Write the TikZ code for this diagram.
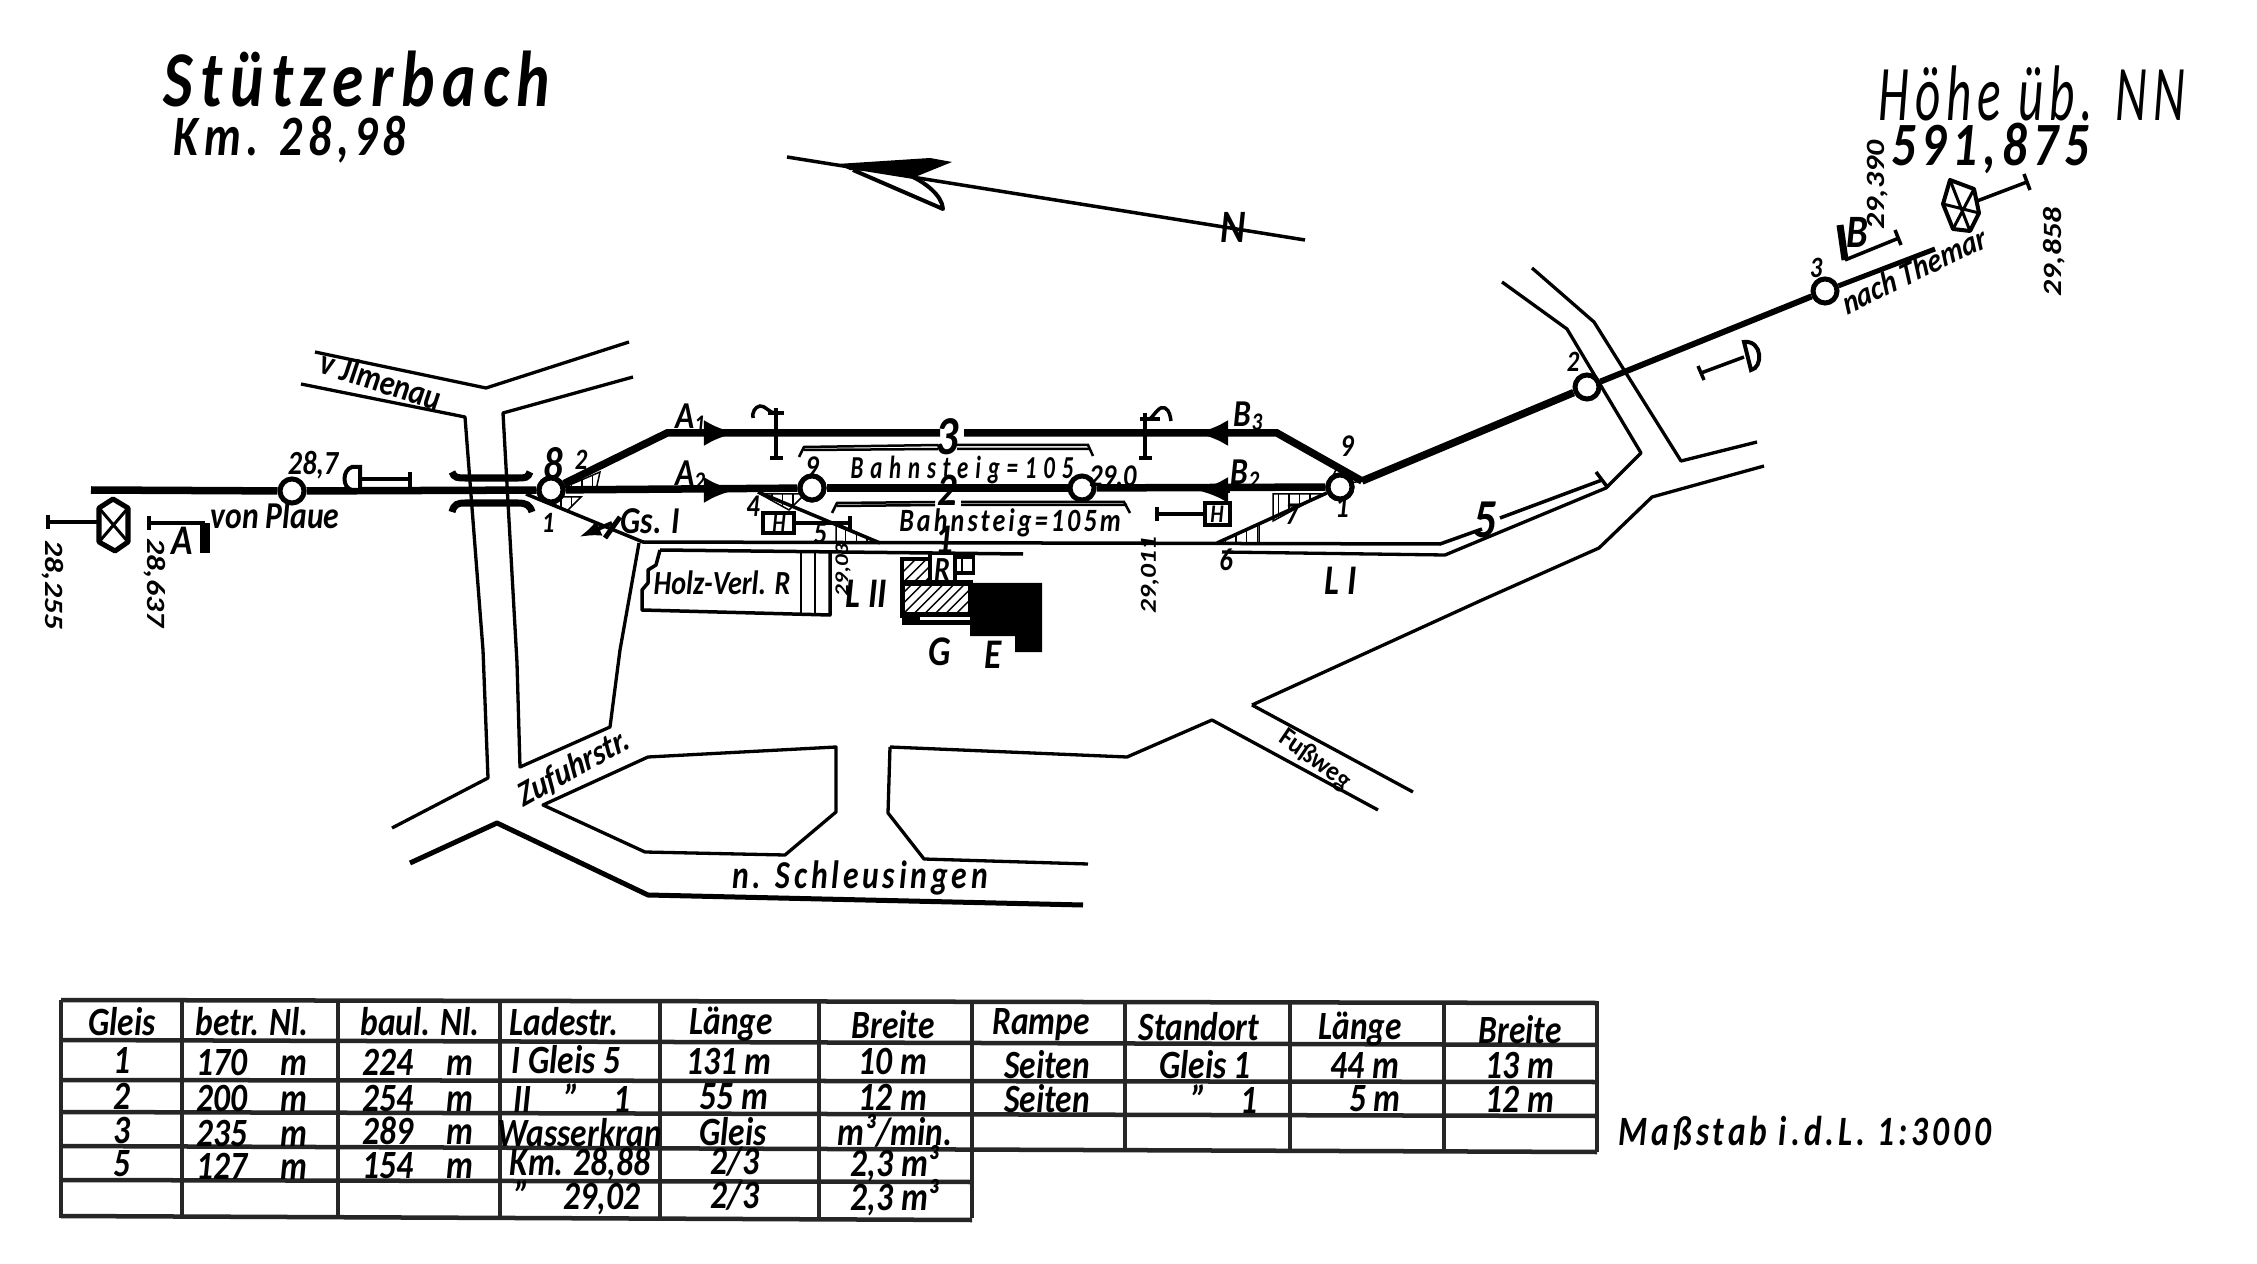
\documentclass[tikz,border=0pt]{standalone}
\usepackage{fontspec}
\setmainfont{Carlito}
\usetikzlibrary{patterns,arrows.meta}
\tikzset{
 hand/.style={inner sep=0pt,yscale=1.2,font=\fontsize{#1}{#1}\selectfont\bfseries\itshape},
 spaced/.style={inner sep=0pt,yscale=1.25,font=\fontsize{#1}{#1}\selectfont\bfseries\itshape\addfontfeatures{LetterSpace=12}},
 spacedw/.style={inner sep=0pt,yscale=1.4,font=\fontsize{#1}{#1}\selectfont\bfseries\itshape\addfontfeatures{LetterSpace=30}},
 thin text/.style={inner sep=0pt,yscale=1.6,font=\fontsize{#1}{#1}\selectfont\itshape\addfontfeatures{LetterSpace=12}},
 road/.style={line width=0.033cm,line join=round},
 roadb/.style={line width=0.05cm,line join=round},
 track/.style={line width=0.075cm,line join=miter},
 trackm/.style={line width=0.035cm,line join=miter},
 stop/.style={circle,draw,line width=0.05cm,fill=white,minimum size=0.24cm,inner sep=0pt},
 sig/.style={line width=0.035cm},
 grid/.style={line width=0.045cm,draw=black!85},
 wedge/.style={line width=0.015cm,pattern=vertical lines},
 arr/.style={-{Latex[length=0.32cm,width=0.26cm]},line width=0.06cm}
}
\newcommand\tcell[3]{\node[hand=9.5] (cell#1-#2) at (#1,#2) {#3};}
\begin{document}
\begin{tikzpicture}[x=0.01cm,y=-0.01cm]
\useasboundingbox[fill=white] (0,0) rectangle (2257,1264);
% titles
\node[spaced=18] (title) at (357,79) {Stützerbach};
\node[spaced=13] (km) at (290,140) {Km. 28,98};
\node[thin text=14] (hoehe) at (2032,93) {Höhe üb. NN};
\node[spaced=14] (hoehe2) at (1990,148) {591,875};
% north arrow
\coordinate (na) at (787,157); \coordinate (nb) at (1305,240);
\draw[line width=0.035cm] (na) -- (nb);
\fill (837,164) -- (930,158) -- (952,162) -- (915,177) -- (885,172) -- (850,170) -- cycle;
\draw[line width=0.04cm,line join=round] (853,170) -- (943,209) .. controls (942,195) and (925,183) .. (913,177);
\node[hand=11] (north) at (1233,227) {N};
% roads
\draw[road] (315,352) -- (486,388) -- (629,342);
\draw[road] (301,384) -- (465,417) -- (483,650) -- (488,778) -- (392,828);
\draw[road] (633,377) -- (503,413) -- (517,663) -- (520,767) -- (610,727) -- (620,650) -- (639,543);
\draw[road] (543,805) -- (648,757) -- (836,747) -- (836,812) -- (785,855) -- (645,852) -- cycle;
\draw[road] (890,747) -- (888,813) -- (924,859) -- (1088,864);
\draw[road] (890,747) -- (1127,757) -- (1212,720) -- (1378,810);
\draw[road] (1252,705) -- (1482,600) -- (1599,548) -- (1652,497) -- (1764,466);
\draw[road] (1252,705) -- (1413,792);
\draw[roadb] (410,863) -- (497,823) -- (648,895) -- (1083,905);
\draw[road] (1502,282) -- (1567,329) -- (1641,453) -- (1606,488) -- (1445,555) -- (1222,552);
\draw[road] (1532,268) -- (1594,322) -- (1681,461) -- (1757,442);
% tracks
\node[stop] (c287) at (292,491) {};
\node[stop] (c8) at (551,490) {};
\node[stop] (c9) at (812,488) {};
\node[stop] (c10) at (1082,488) {};
\node[stop] (c1) at (1340,487) {};
\node[stop] (c2) at (1587,387) {};
\node[stop] (c3) at (1825,291) {};
\coordinate (start) at (91,490);
\coordinate (a1) at (667,433); \coordinate (b1) at (1277,433); \coordinate (j) at (1362,481);
\coordinate (gap1) at (940,433); \coordinate (gap2) at (964,433);
\coordinate (endT) at (1935,249);
\draw[track] (start) -- (c287);
\draw[track] (c287) -- (c8);
\draw[track] (c8) -- (c9);
\draw[track] (c9) -- (c10);
\draw[track] (c10) -- (c1);
\draw[track] (c8) -- (a1) -- (gap1);
\draw[track] (gap2) -- (b1) -- (j);
\draw[track] (j) -- (c2);
\draw[line width=0.06cm] (c2) -- (c3);
\draw[line width=0.05cm] (c3) -- (endT);
% arrows on tracks
\draw[arr] (705,433) -- (736,433);
\draw[arr] (705,490) -- (736,490);
\draw[arr] (1230,433) -- (1196,433);
\draw[arr] (1230,490) -- (1196,490);
% secondary tracks
\draw[trackm] (526,494) -- (643,542) -- (1440,544) -- (1482,529);
\draw[trackm] (758,492) -- (880,543);
\draw[trackm] (1217,543) -- (c1);
\draw[trackm] (1500,518) -- (1602,480);
\draw[sig] (1596,472) -- (1608,488);
% wedges
\draw[wedge] (565,487) -- (600,472) -- (596,490) -- cycle;
\draw[wedge] (541,497) -- (581,497) -- (567,511) -- cycle;
\draw[wedge] (760,494) -- (805,494) -- (789,510) -- cycle;
\draw[wedge] (836,543) -- (836,523) -- (880,543) -- cycle;
\draw[wedge] (1217,543) -- (1259,524) -- (1259,543) -- cycle;
\draw[wedge] (1273,494) -- (1323,494) -- (1273,521) -- cycle;
\draw[wedge] (1327,487) -- (1337,468) -- (1362,481) -- cycle;
\node[stop] at (c8) {};\node[stop] at (c9) {};\node[stop] at (c1) {};
% catch point
\draw[-{Latex[length=0.22cm,width=0.16cm]},line width=0.04cm] (612,523) -- (579,537);
\draw[line width=0.05cm] (620,517) -- (605,538);
% bridge
\draw[line width=0.07cm] (452,472) .. controls (454,478) and (458,478) .. (465,478) -- (518,478) .. controls (525,478) and (528,478) .. (530,472);
\draw[line width=0.07cm] (452,512) .. controls (454,504) and (458,503) .. (465,503) -- (518,503) .. controls (526,503) and (530,505) .. (532,512);
% distant signal left
\draw[sig] (361,479) -- (410,479);
\draw[sig] (410,472) -- (410,487);
\draw[line width=0.04cm,fill=white] (360,467) -- (352,467) .. controls (342,470) and (342,488) .. (352,490) -- (360,490) -- cycle;
% main signal left
\draw[line width=0.05cm,line join=round,fill=white] (113,499) -- (128,508) -- (128,542) -- (115,551) -- (99,542) -- (99,508) -- cycle;
\draw[line width=0.03cm] (99,508) -- (128,542) (128,508) -- (99,542);
\draw[sig] (48,522) -- (99,522) (48,515) -- (48,529);
% signal A
\draw[sig] (149,523) -- (205,523) (149,516) -- (149,530);
\fill (200,523) rectangle (210,553);
\node[hand=10] (lA) at (182,541) {A};
% posts
\draw[sig] (776,408) -- (776,458) (770,458) -- (783,458) (768,413) -- (784,413);
\draw[sig] (776,413) .. controls (770,414) and (765,405) .. (760,406) .. controls (755,407) and (752,412) .. (753,418);
\draw[sig] (1145,413) -- (1145,458) (1139,458) -- (1152,458) (1140,419) -- (1160,419);
\draw[sig] (1150,419) .. controls (1155,414) and (1160,405) .. (1165,408) .. controls (1170,411) and (1170,416) .. (1171,421);
% platforms
\draw[line width=0.025cm] (799,457) -- (804,447) -- (938,445) (957,445) -- (1088,445) -- (1093,456);
\draw[line width=0.025cm] (804,450) -- (938,449) (957,449) -- (1090,449);
\draw[line width=0.025cm] (832,513) -- (837,503) -- (935,502) (961,502) -- (1124,502) -- (1130,513);
\draw[line width=0.025cm] (837,506) -- (935,505) (961,505) -- (1127,505);
% H signals
\draw[line width=0.04cm] (763,513) rectangle (794,533);
\node[hand=6] (h1) at (779,523) {H};
\draw[sig] (794,523) -- (850,523) (850,516) -- (850,530);
\draw[line width=0.04cm] (1205,503) rectangle (1230,525);
\node[hand=6] (h2) at (1217,514) {H};
\draw[sig] (1157,514) -- (1205,514) (1157,507) -- (1157,521);
% distant + signals right
\draw[sig] (1701,373) -- (1744,357) (1698,366) -- (1704,380);
\draw[line width=0.04cm,fill=white] (1744,342) -- (1751,370) .. controls (1763,368) and (1763,340) .. (1744,342) -- cycle;
\draw[line width=0.04cm,line join=round,fill=white] (1950,180) -- (1974,189) -- (1979,213) -- (1970,231) -- (1953,229) -- (1943,204) -- cycle;
\draw[line width=0.03cm] (1943,204) -- (1979,213) (1950,180) -- (1970,231) (1974,189) -- (1953,229);
\draw[sig] (1977,201) -- (2027,182) (2024,174) -- (2030,190);
\draw[sig] (1845,260) -- (1899,238) (1895,230) -- (1901,245);
\draw[line width=0.07cm] (1845,260) -- (1840,225);
% station building
\draw[line width=0.04cm,pattern=north east lines] (902,559) rectangle (930,582);
\draw[line width=0.04cm] (930,554) -- (930,582) (955,554) -- (955,582);
\node[hand=8] (lR) at (942,570) {R};
\draw[line width=0.03cm,pattern=vertical lines] (955,557) rectangle (973,573);
\draw[line width=0.05cm,pattern=north east lines] (902,583) rectangle (970,615);
\fill (902,615) rectangle (970,625);
\fill[white] (920,617) rectangle (970,620);
\fill (970,583) -- (1042,583) -- (1042,652) -- (1015,652) -- (1015,636) -- (970,636) -- cycle;
\draw[trackm] (660,550) -- (1023,554);
% Holz box
\draw[line width=0.035cm,line join=round] (660,550) -- (656,565) -- (648,570) -- (648,583) -- (642,590) -- (642,610) -- (830,615) -- (830,553);
\draw[line width=0.025cm] (801,552) -- (801,613) (815,553) -- (815,614);
% labels
\node[hand=8] (holz) at (722,583) {Holz-Verl. R};
\node[hand=10] (l1) at (866,594) {L II};
\node[hand=10] (l2) at (1341,581) {L I};
\node[hand=10] (lG) at (940,652) {G};
\node[hand=10] (lE) at (993,655) {E};
\node[hand=8] (p287) at (313,465) {28,7};
\node[hand=9] (vp) at (275,515) {von Plaue};
\node[hand=9] (gs) at (650,521) {Gs. I};
\node[hand=8.5,rotate=-15] (ilm) at (381,380) {v Jlmenau};
\node[hand=7] (a2n) at (581,460) {2};
\node[hand=11] (l8) at (553,464) {8};
\node[hand=7] (n1) at (548,523) {1};
\node[hand=9] (A1) at (691,418) {A\textsubscript{1}};
\node[hand=9] (A2) at (691,475) {A\textsubscript{2}};
\node[hand=9] (B3) at (1249,416) {B\textsubscript{3}};
\node[hand=9] (B2) at (1246,474) {B\textsubscript{2}};
\node[hand=13] (t3) at (947,437) {3};
\node[hand=11] (t2) at (947,490) {2};
\node[hand=10] (t1) at (944,540) {1};
\node[hand=7.5] (n9) at (812,467) {9};
\node[hand=7.5] (n4) at (753,506) {4};
\node[hand=7.5] (n5) at (820,533) {5};
\node[hand=7.5] (n6) at (1226,560) {6};
\node[hand=7.5] (n7) at (1292,514) {7};
\node[hand=7.5] (n1r) at (1342,507) {1};
\node[hand=7.5] (n9r) at (1347,446) {9};
\node[hand=7] (n2r) at (1573,362) {2};
\node[hand=7] (n3r) at (1816,268) {3};
\node[spacedw=6.5] (bs1) at (962,470) {Bahnsteig=105};
\node[hand=7.5] (km29) at (1113,476) {29.0};
\node[spaced=7.4] (bs2) at (1010,523) {Bahnsteig=105m};
\node[hand=5.5,rotate=90] (k2903) at (843,570) {29,03};
\node[hand=6.5,rotate=90] (k29011) at (1150,575) {29,011};
\node[hand=7.5,rotate=-90] (k28255) at (53,585) {28,255};
\node[hand=7.5,rotate=-90] (k28637) at (155,583) {28,637};
\node[hand=7.5,rotate=90] (k29390) at (1878,185) {29,390};
\node[hand=7.5,rotate=90] (k29858) at (2054,252) {29,858};
\node[hand=11] (lB) at (1857,232) {B};
\node[hand=13] (t5) at (1485,520) {5};
\node[hand=8,rotate=22] (them) at (1914,270) {nach Themar};
\node[hand=8.5,rotate=25] (zuf) at (574,768) {Zufuhrstr.};
\node[hand=6.8,rotate=-32] (fuss) at (1315,760) {Fußweg};
\node[spaced=9] (schl) at (860,878) {n. Schleusingen};
% table
\foreach \a/\b in {1000/1003,1040/1045,1080/1082,1112/1116,1146/1152}
  \draw[grid] (61,\a) -- (1597,\b);
\draw[grid] (61,1180) -- (972,1182);
\draw[grid] (61,1216) -- (972,1220);
\foreach \c in {61,182,338,500,660,819,972}
  \draw[grid] (\c,1000) -- (\c,1218);
\foreach \c in {1125,1290,1444,1597}
  \draw[grid] (\c,1001) -- (\c,1152);
\tcell{122}{1022}{Gleis}\tcell{252}{1022}{betr. Nl.}\tcell{420}{1022}{baul. Nl.}\tcell{564}{1022}{Ladestr.}\tcell{731}{1024}{Länge}\tcell{893}{1025}{Breite}
\tcell{1041}{1025}{Rampe}\tcell{1199}{1027}{Standort}\tcell{1360}{1029}{Länge}\tcell{1520}{1030}{Breite}
\tcell{122}{1060}{1}\tcell{252}{1062}{170\quad m}\tcell{418}{1062}{224\quad m}\tcell{566}{1060}{I Gleis 5}\tcell{729}{1061}{131 m}\tcell{893}{1061}{10 m}
\tcell{1047}{1065}{Seiten}\tcell{1205}{1065}{Gleis 1}\tcell{1365}{1065}{44 m}\tcell{1520}{1065}{13 m}
\tcell{122}{1096}{2}\tcell{252}{1098}{200\quad m}\tcell{418}{1098}{254\quad m}\tcell{572}{1098}{II\quad "\quad 1}\tcell{734}{1097}{55 m}\tcell{893}{1097}{12 m}
\tcell{1047}{1099}{Seiten}\tcell{1225}{1099}{"\quad 1}\tcell{1375}{1099}{5 m}\tcell{1520}{1099}{12 m}
\tcell{122}{1130}{3}\tcell{252}{1133}{235\quad m}\tcell{418}{1131}{289\quad m}\tcell{580}{1133}{Wasserkran}\tcell{733}{1132}{Gleis}\tcell{895}{1131}{m³/min.}
\tcell{122}{1164}{5}\tcell{252}{1166}{127\quad m}\tcell{418}{1166}{154\quad m}\tcell{580}{1164}{Km. 28,88}\tcell{735}{1162}{2/3}\tcell{895}{1164}{2,3 m³}
\tcell{578}{1198}{"\quad 29,02}\tcell{735}{1196}{2/3}\tcell{895}{1198}{2,3 m³}
\node[spaced=9.5] (mass) at (1805,1133) {Maßstab i.d.L. 1:3000};
\end{tikzpicture}
\end{document}
